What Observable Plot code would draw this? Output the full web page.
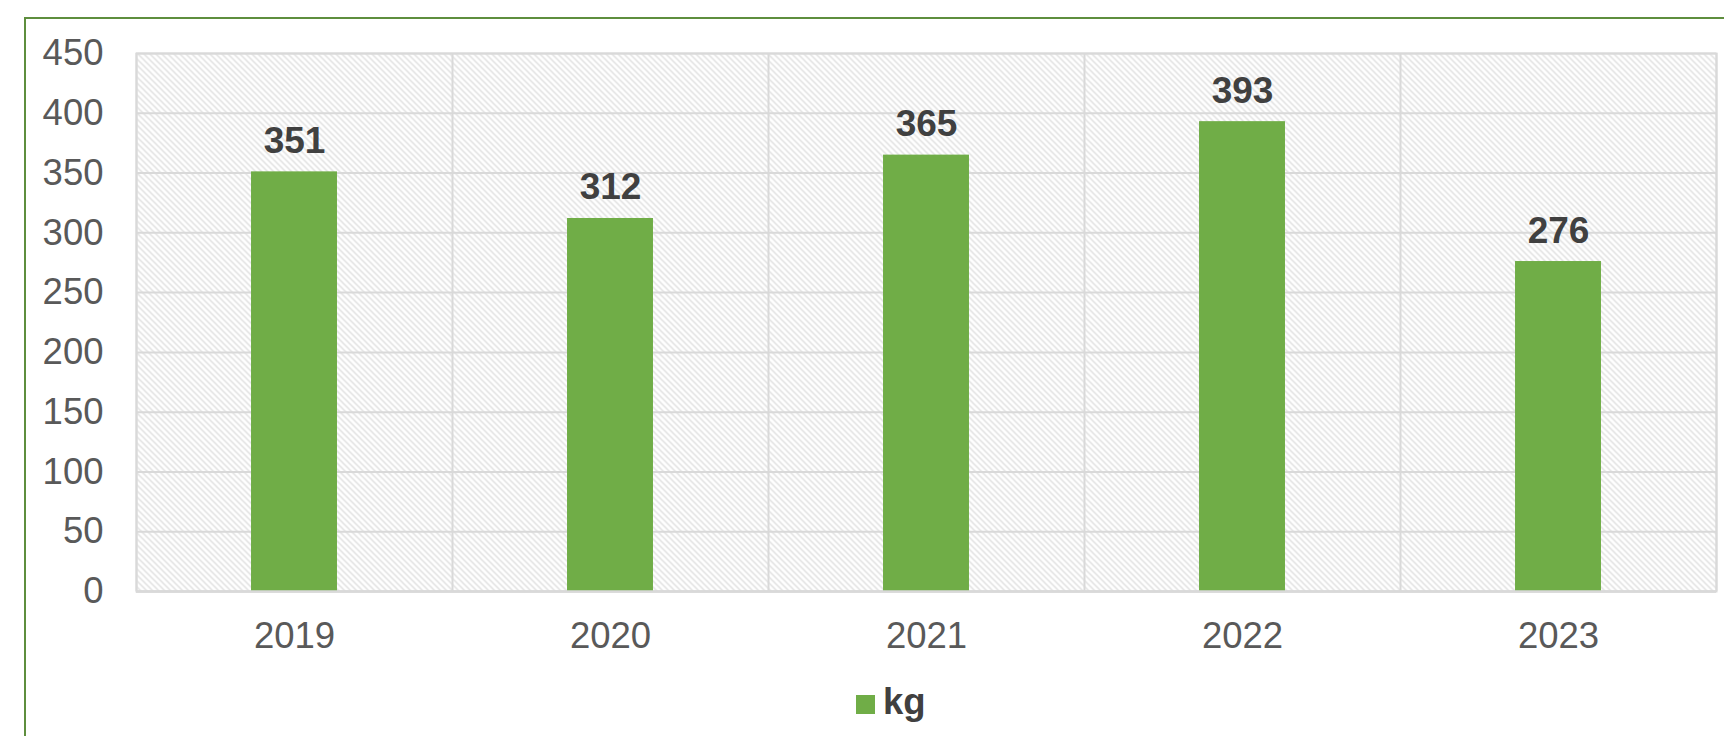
<!DOCTYPE html>
<html>
<head>
<meta charset="utf-8">
<script src="https://cdn.jsdelivr.net/npm/d3@7"></script>
<script src="https://cdn.jsdelivr.net/npm/@observablehq/plot@0.6"></script>
<style>
  html, body { margin: 0; padding: 0; background: #ffffff; }
  body { width: 1724px; height: 736px; position: relative; overflow: hidden;
         font-family: "Liberation Sans", Arial, Helvetica, sans-serif; }
  #chart { position: absolute; left: 0; top: 0; }
  #frame { position: absolute; left: 24px; top: 17px; width: 2000px; height: 1000px;
           border-top: 2px solid #5E8E3E; border-left: 2px solid #5E8E3E; pointer-events: none; }
  #legend { position: absolute; left: 856px; top: 684px; display: flex; align-items: center; }
  #legend .sw { width: 19px; height: 19px; background: #70AD47; margin-right: 8px; margin-top: 4px; }
  #legend .lab { font-size: 36.5px; line-height: 36px; font-weight: bold; color: #404040; }
</style>
</head>
<body>
<div id="chart"></div>
<div id="legend"><div class="sw"></div><div class="lab">kg</div></div>
<div id="frame"></div>
<script>
// ---- data ----
const years = ["2019", "2020", "2021", "2022", "2023"];
const kg = [351, 312, 365, 393, 276];
const yTicks = [0, 50, 100, 150, 200, 250, 300, 350, 400, 450];
const seriesName = "kg";

// ---- styles ----
const barColor = "#70AD47";
const gridColor = "#d9d9d9";
const barFrac = 0.272;

const data = years.map((year, i) => ({year, i, value: kg[i]}));
const bounds = d3.range(years.length + 1);
const centers = years.map((_, i) => i + 0.5);

const chart = Plot.plot({
  width: 1724,
  height: 670,
  marginLeft: 136,
  marginRight: 8,
  marginTop: 53,
  marginBottom: 79,
  style: {
    fontFamily: '"Liberation Sans", Arial, Helvetica, sans-serif',
    fontSize: "36.5px",
    color: "#595959",
    background: "transparent",
    overflow: "visible"
  },
  x: {type: "linear", domain: [0, years.length]},
  y: {domain: [0, 450]},
  marks: [
    Plot.frame({fill: "url(#hatch)", stroke: gridColor, strokeWidth: 2}),
    Plot.gridY(yTicks, {stroke: gridColor, strokeOpacity: 1, strokeWidth: 2}),
    Plot.ruleX(bounds, {stroke: gridColor, strokeWidth: 2}),
    Plot.rectY(data, {
      x1: d => d.i + (1 - barFrac) / 2,
      x2: d => d.i + (1 + barFrac) / 2,
      y1: 0,
      y2: "value",
      fill: barColor
    }),
    Plot.ruleY([0], {stroke: gridColor, strokeWidth: 2.5}),
    Plot.text(data, {
      x: d => d.i + 0.5,
      y: "value",
      text: d => String(d.value),
      lineAnchor: "bottom",
      dy: -19,
      fontWeight: "bold",
      fontSize: 37,
      fill: "#404040"
    }),
    Plot.axisY(yTicks, {tickSize: 0, tickPadding: 33, label: null, tickFormat: d => String(d)}),
    Plot.axisX(centers, {tickSize: 0, tickPadding: 31, label: null, tickFormat: v => years[Math.round(v - 0.5)]})
  ]
});

// hatch pattern definition
const ns = "http://www.w3.org/2000/svg";
const defs = document.createElementNS(ns, "defs");
const pat = document.createElementNS(ns, "pattern");
pat.setAttribute("id", "hatch");
pat.setAttribute("patternUnits", "userSpaceOnUse");
pat.setAttribute("width", "6");
pat.setAttribute("height", "6");
const bg = document.createElementNS(ns, "rect");
bg.setAttribute("width", "6");
bg.setAttribute("height", "6");
bg.setAttribute("fill", "#ffffff");
pat.appendChild(bg);
const p = document.createElementNS(ns, "path");
p.setAttribute("d", "M-1,-1 L7,7 M-1,5 L1,7 M5,-1 L7,1");
p.setAttribute("stroke", "#dddddd");
p.setAttribute("stroke-width", "1.3");
p.setAttribute("fill", "none");
pat.appendChild(p);
defs.appendChild(pat);
const svgEl = chart.tagName.toLowerCase() === "svg" ? chart : chart.querySelector("svg");
svgEl.insertBefore(defs, svgEl.firstChild);

document.getElementById("chart").appendChild(chart);
</script>
</body>
</html>
